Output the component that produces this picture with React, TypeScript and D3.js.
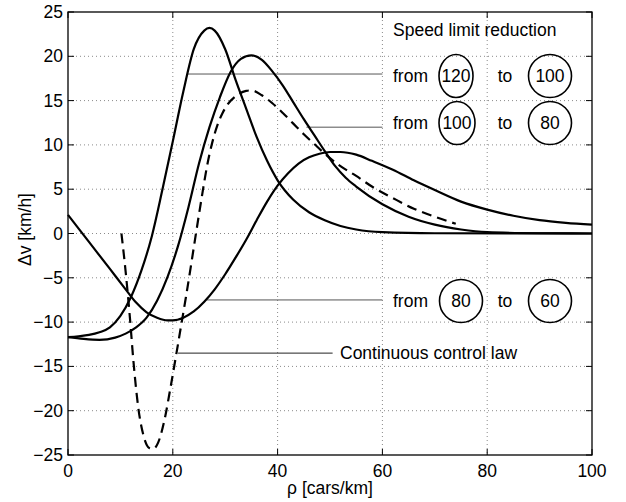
import * as d3 from "d3";

// speed-limit step 120 -> 100
const curve120: [number, number][] = [
  [0, -11.7], [2, -11.6], [4, -11.45], [6, -11.15], [8, -10.6], [10, -9.3], [12, -7.2],
  [14, -4.2], [16, -0.3], [18, 4.9], [20, 10.4], [22, 16.0], [24, 20.8], [26, 22.9],
  [27, 23.2], [28, 22.9], [30, 20.8], [32, 17.3], [34, 14.1], [36, 10.9], [38, 8.2],
  [40, 6.0], [43, 3.8], [46, 2.4], [49, 1.5], [52, 0.85], [55, 0.45], [60, 0.15],
  [70, 0.03], [100, 0],
];

// 100 -> 80
const curve100: [number, number][] = [
  [0, -11.7], [3, -11.9], [6, -12.0], [9, -11.75], [11, -11.3], [13, -10.6], [15, -9.5],
  [17, -7.6], [19, -4.9], [21, -1.4], [23, 3.0], [25, 7.9], [27, 12.0], [29, 15.4],
  [31, 18.2], [33, 19.7], [35, 20.1], [37, 19.6], [39, 18.3], [41, 16.7], [43, 14.8],
  [45, 12.9], [47, 11.1], [49, 9.3], [51, 7.6], [53, 6.3], [55, 5.3], [60, 3.3],
  [65, 1.9], [70, 1.0], [75, 0.45], [80, 0.15], [90, 0.03], [100, 0],
];

// 80 -> 60
const curve80: [number, number][] = [
  [0, 2.1], [4, -0.95], [8, -4.0], [11, -6.3], [13, -7.8], [15, -8.9], [17, -9.5],
  [19, -9.8], [20, -9.8], [22, -9.5], [24, -8.8], [26, -7.7], [28, -6.3], [30, -4.6],
  [32, -2.7], [34, -0.7], [36, 1.5], [38, 3.6], [40, 5.4], [42, 6.8], [44, 7.9],
  [46, 8.6], [48, 9.0], [50, 9.2], [52, 9.2], [55, 8.9], [58, 8.2], [62, 7.2],
  [66, 6.0], [70, 4.9], [75, 3.6], [80, 2.7], [85, 2.0], [90, 1.5], [95, 1.2], [100, 1.0],
];

// continuous control law (dashed)
const continuous: [number, number][] = [
  [10.2, 0], [11, -4.3], [11.8, -9.4], [12.5, -14.5], [13.4, -19.6], [14.5, -23.0],
  [15.5, -24.2], [16.3, -24.3], [17.2, -23.6], [18.5, -20.8], [19.5, -17.6], [20.5, -14.2],
  [21.5, -10.7], [22.5, -7.2], [23.5, -3.5], [24.5, 0.3], [25.5, 4.0], [26.5, 7.5],
  [27.5, 10.2], [28.5, 12.2], [29.5, 13.6], [30.5, 14.6], [32, 15.5], [34, 16.1], [35, 16.15],
  [37, 15.6], [39, 14.7], [41, 13.6], [43, 12.4], [45, 11.2], [47, 10.1], [49, 9.0],
  [52, 7.6], [55, 6.5], [58, 5.3], [62, 4.0], [66, 2.8], [70, 1.9], [74, 1.1],
];

const xTicks = [0, 20, 40, 60, 80, 100];
const yTicks = [-25, -20, -15, -10, -5, 0, 5, 10, 15, 20, 25];

const legendTitle = "Speed limit reduction";
const fromSpeeds = ["120", "100", "80"];
const toSpeeds = ["100", "80", "60"];
const leaderStartX = [22.7, 45.5, 26.5];
const leaderY = [18, 12, -7.5];
const leaderEndX = 60;
const lawLabel = "Continuous control law";
const lawLine = { x0: 21, x1: 50.5, y: -13.5 };

const W = 626;
const H = 502;
const left = 68, right = 592, top = 12, bottom = 455;
const font = "'Liberation Sans', Arial, Helvetica, sans-serif";

export default function App() {
  const x = d3.scaleLinear().domain([0, 100]).range([left, right]);
  const y = d3.scaleLinear().domain([-25, 25]).range([bottom, top]);
  const line = d3.line<[number, number]>()
    .x(d => x(d[0]))
    .y(d => y(d[1]))
    .curve(d3.curveMonotoneX);
  const fmt = d3.format("d");

  const rowTextY = [76, 123, 301];
  const fromRx = [17, 18, 21.5];
  const fromCx = [456, 457, 461];

  return (
    <svg width={W} height={H} style={{ position: "absolute", left: 0, top: 0, background: "#fff" }}
      fontFamily={font} fontSize={17.5}>
      <rect x={0} y={0} width={W} height={H} fill="#fff" />
      {/* grid */}
      <g stroke="#8a8a8a" strokeWidth={1} strokeDasharray="1,3">
        {xTicks.slice(1, -1).map(t => (
          <line key={"gx" + t} x1={x(t)} x2={x(t)} y1={top} y2={bottom} />
        ))}
        {yTicks.slice(1, -1).map(t => (
          <line key={"gy" + t} x1={left} x2={right} y1={y(t)} y2={y(t)} />
        ))}
      </g>
      {/* ticks */}
      <g stroke="#000" strokeWidth={1}>
        {xTicks.map(t => (
          <g key={"tx" + t}>
            <line x1={x(t)} x2={x(t)} y1={bottom} y2={bottom - 6} />
            <line x1={x(t)} x2={x(t)} y1={top} y2={top + 6} />
          </g>
        ))}
        {yTicks.map(t => (
          <g key={"ty" + t}>
            <line x1={left} x2={left + 6} y1={y(t)} y2={y(t)} />
            <line x1={right} x2={right - 6} y1={y(t)} y2={y(t)} />
          </g>
        ))}
      </g>
      {/* tick labels */}
      <g fill="#000">
        {xTicks.map(t => (
          <text key={"lx" + t} x={x(t)} y={bottom + 22} textAnchor="middle">{fmt(t)}</text>
        ))}
        {yTicks.map(t => (
          <text key={"ly" + t} x={left - 5} y={y(t)} textAnchor="end" dominantBaseline="central">{fmt(t)}</text>
        ))}
      </g>
      <text x={(left + right) / 2} y={494} textAnchor="middle">ρ [cars/km]</text>
      <text transform={`translate(31,${(top + bottom) / 2 - 4}) rotate(-90)`} textAnchor="middle">Δv [km/h]</text>

      {/* leader lines */}
      <g stroke="#555" strokeWidth={1}>
        {leaderY.map((v, i) => (
          <line key={"ld" + i} x1={x(leaderStartX[i])} x2={x(leaderEndX)} y1={y(v)} y2={y(v)} />
        ))}
        <line x1={x(lawLine.x0)} x2={x(lawLine.x1)} y1={y(lawLine.y)} y2={y(lawLine.y)} stroke="#222" />
      </g>

      {/* curves */}
      <g fill="none" stroke="#000" strokeWidth={2.2} strokeLinejoin="round">
        <path d={line(curve80) || ""} />
        <path d={line(curve100) || ""} />
        <path d={line(curve120) || ""} />
        <path d={line(continuous) || ""} strokeDasharray="10,6" />
      </g>

      {/* box */}
      <rect x={left} y={top} width={right - left} height={bottom - top} fill="none" stroke="#000" strokeWidth={1.3} />

      {/* legend annotations */}
      <text x={393} y={36}>{legendTitle}</text>
      {fromSpeeds.map((s, i) => (
        <g key={"row" + i}>
          <text x={393} y={rowTextY[i]} dominantBaseline="central">from</text>
          <ellipse cx={fromCx[i]} cy={rowTextY[i]} rx={fromRx[i]} ry={21.5} fill="none" stroke="#000" strokeWidth={1.6} />
          <text x={fromCx[i]} y={rowTextY[i]} textAnchor="middle" dominantBaseline="central">{s}</text>
          <text x={505} y={rowTextY[i]} textAnchor="middle" dominantBaseline="central">to</text>
          <ellipse cx={550} cy={rowTextY[i]} rx={21.5} ry={21.5} fill="none" stroke="#000" strokeWidth={1.6} />
          <text x={550} y={rowTextY[i]} textAnchor="middle" dominantBaseline="central">{toSpeeds[i]}</text>
        </g>
      ))}
      <text x={340} y={353} dominantBaseline="central">{lawLabel}</text>
    </svg>
  );
}
